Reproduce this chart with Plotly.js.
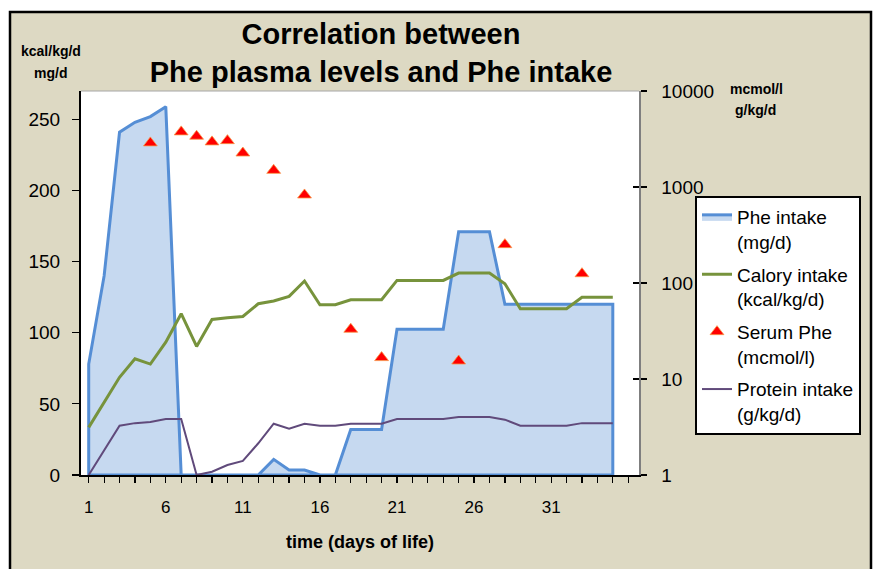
<!DOCTYPE html>
<html>
<head>
<meta charset="utf-8">
<script src="https://cdn.plot.ly/plotly-3.0.1.min.js"></script>
<style>html,body{margin:0;padding:0;background:#fff;}#chart{width:878px;height:569px;}</style>
</head>
<body>
<div id="chart"></div>
<script>
// ---- data ----
const days = [1,2,3,4,5,6,7,8,9,10,11,12,13,14,15,16,17,18,19,20,21,22,23,24,25,26,27,28,29,30,31,32,33,34,35];
const pheIntake = [78,140,241,248,252,259,0,0,0,0,0,0,11,3.5,3.5,0,0,32,32,32,102.5,102.5,102.5,102.5,171,171,171,120,120,120,120,120,120,120,120];
const caloryIntake = [33.5,51,68.7,81.7,78,93.4,113.4,90.4,109.4,110.6,111.5,120.4,122.3,125.6,136.4,119.7,119.7,123.2,123.2,123.2,136.8,136.8,136.8,136.8,142,142,142,134.5,116.9,116.9,116.9,116.9,124.9,124.9,124.9];
const proteinIntake = [1,1.8,3.26,3.47,3.56,3.83,3.83,1,1.08,1.27,1.4,2.14,3.42,3.03,3.42,3.26,3.26,3.42,3.42,3.42,3.83,3.83,3.83,3.83,4.01,4.01,4.01,3.77,3.26,3.26,3.26,3.26,3.47,3.47,3.47];
const serumDays = [5,7,8,9,10,11,13,15,18,20,25,28,33];
const serumPhe = [2880,3750,3380,2950,3040,2260,1490,826,33,16.7,15.4,251,125];
const tickDays = [1,2,3,4,5,6,7,8,9,10,11,12,13,14,15,16,17,18,19,20,21,22,23,24,25,26,27,28,29,30,31,32,33,34,35,36];
const tickLabels = ['1','','','','','6','','','','','11','','','','','16','','','','','21','','','','','26','','','','','31','','','','',''];
const logTicks = [1,10,100,1000,10000];
const logTickLabels = ['1','10','100','1000','10000'];

// closed outline of the area (area chart border incl. vertical edges)
const areaX = [days[0]].concat(days, [days[days.length-1], days[0]]);
const areaY = [0].concat(pheIntake, [0, 0]);

const FONT = 'Liberation Sans, Arial, sans-serif';

const traces = [
  {x: areaX, y: areaY, name: 'Phe intake<br>(mg/d)', type: 'scatter', mode: 'lines',
   fill: 'toself', fillcolor: '#C6D9F0', line: {color: '#558ED5', width: 3}, yaxis: 'y', legendgroup: 'a'},
  {x: days, y: caloryIntake, name: 'Calory intake<br>(kcal/kg/d)', type: 'scatter', mode: 'lines',
   line: {color: '#77933C', width: 3}, yaxis: 'y', legendgroup: 'b'},
  {x: serumDays, y: serumPhe, name: 'Serum Phe<br>(mcmol/l)', type: 'scatter', mode: 'markers',
   marker: {symbol: 'triangle-up', size: 12, color: '#FF0000', line: {color: '#F79646', width: 0.8}}, yaxis: 'y2', legendgroup: 'c'},
  {x: days, y: proteinIntake, name: 'Protein intake<br>(g/kg/d)', type: 'scatter', mode: 'lines',
   line: {color: '#604A7B', width: 2}, yaxis: 'y2', legendgroup: 'd'}
];

const pl = 81, pr = 639, pt = 91, pb = 475;
const W = pr - pl, H = pb - pt;
const px = v => (v - pl) / W;
const py = v => (pb - v) / H;

const layout = {
  width: 878, height: 569,
  margin: {l: 81, r: 878 - pr, t: pt, b: 569 - pb, pad: 0},
  paper_bgcolor: '#DDD9C3',
  plot_bgcolor: '#FFFFFF',
  font: {family: FONT, color: '#000'},
  title: {text: '<b>Correlation between<br>Phe plasma levels and Phe intake</b>',
          font: {family: FONT, size: 29, color: '#000'},
          x: px(381), xref: 'paper', xanchor: 'center',
          y: 1 - 44/569, yref: 'container', yanchor: 'middle'},
  showlegend: true,
  legend: {x: px(695), y: py(196), xanchor: 'left', yanchor: 'top', bgcolor: '#FFFFFF',
           bordercolor: '#000', borderwidth: 2, font: {family: FONT, size: 19, color: '#000'},
           valign: 'top', traceorder: 'grouped', tracegroupgap: 5},
  xaxis: {range: [0.5, 36.7], tickmode: 'array', tickvals: tickDays, ticktext: tickLabels,
          ticks: 'outside', ticklen: 6, tickcolor: '#000', tickwidth: 1.2,
          showline: true, linecolor: '#000', linewidth: 1.5, showgrid: false, zeroline: false,
          tickfont: {family: FONT, size: 17, color: '#000'}, ticklabelstandoff: 10,
          title: {text: '<b>time (days of life)</b>', font: {family: FONT, size: 18, color: '#000'}, standoff: 19}},
  yaxis: {range: [0, 270], tickmode: 'array', tickvals: [0,50,100,150,200,250],
          ticks: 'outside', ticklen: 7, tickcolor: '#000', tickwidth: 1.2,
          showline: true, linecolor: '#000', linewidth: 2, showgrid: false, zeroline: false,
          tickfont: {family: FONT, size: 19, color: '#000'}, ticklabelstandoff: 8},
  yaxis2: {type: 'log', range: [0, 4], overlaying: 'y', side: 'right', tickmode: 'array',
           tickvals: logTicks, ticktext: logTickLabels,
           ticks: 'outside', ticklen: 6, tickcolor: '#000', tickwidth: 1.2,
           showline: true, linecolor: '#7F7F7F', linewidth: 1.5, showgrid: false, zeroline: false,
           tickfont: {family: FONT, size: 19, color: '#000'}, ticklabelstandoff: 11},
  yaxis3: {type: 'log', range: [0, 4], overlaying: 'y', side: 'right', tickmode: 'array',
           tickvals: logTicks, ticktext: ['','','','',''], showticklabels: false,
           ticks: 'inside', ticklen: 6, tickcolor: '#000', tickwidth: 1.2,
           showline: false, showgrid: false, zeroline: false},
  annotations: [
    {text: '<b>kcal/kg/d</b>', x: px(51), y: py(51), xref: 'paper', yref: 'paper', xanchor: 'center', yanchor: 'middle', showarrow: false, font: {family: FONT, size: 14, color: '#000'}},
    {text: '<b>mg/d</b>', x: px(50), y: py(73), xref: 'paper', yref: 'paper', xanchor: 'center', yanchor: 'middle', showarrow: false, font: {family: FONT, size: 14, color: '#000'}},
    {text: '<b>mcmol/l</b>', x: px(756), y: py(89), xref: 'paper', yref: 'paper', xanchor: 'center', yanchor: 'middle', showarrow: false, font: {family: FONT, size: 14, color: '#000'}},
    {text: '<b>g/kg/d</b>', x: px(755), y: py(110), xref: 'paper', yref: 'paper', xanchor: 'center', yanchor: 'middle', showarrow: false, font: {family: FONT, size: 14, color: '#000'}}
  ],
  shapes: [
    // white page margins outside the framed chart
    {type: 'rect', xref: 'paper', yref: 'paper', x0: px(-5), x1: px(890), y0: py(11), y1: py(-5), fillcolor: '#FFFFFF', line: {width: 0}, layer: 'below'},
    {type: 'rect', xref: 'paper', yref: 'paper', x0: px(-5), x1: px(9), y0: py(580), y1: py(-5), fillcolor: '#FFFFFF', line: {width: 0}, layer: 'below'},
    {type: 'rect', xref: 'paper', yref: 'paper', x0: px(872), x1: px(890), y0: py(580), y1: py(-5), fillcolor: '#FFFFFF', line: {width: 0}, layer: 'below'},
    // chart frame
    {type: 'rect', xref: 'paper', yref: 'paper', x0: px(10), x1: px(871), y0: py(590), y1: py(12), fillcolor: 'rgba(0,0,0,0)', line: {color: '#000', width: 2.5}, layer: 'above'},
    // plot-area top border
    {type: 'line', xref: 'paper', yref: 'paper', x0: 0, x1: 1, y0: 1, y1: 1, line: {color: '#A6A6A6', width: 1}, layer: 'above'}
  ]
};

// yaxis3 carries only the inner half of the cross tick marks
traces.push({x: [days[0]], y: [logTicks[0]], yaxis: 'y3', type: 'scatter', mode: 'markers', marker: {opacity: 0}, showlegend: false, hoverinfo: 'skip'});

Plotly.newPlot('chart', traces, layout, {displayModeBar: false, staticPlot: true});
</script>
</body>
</html>
